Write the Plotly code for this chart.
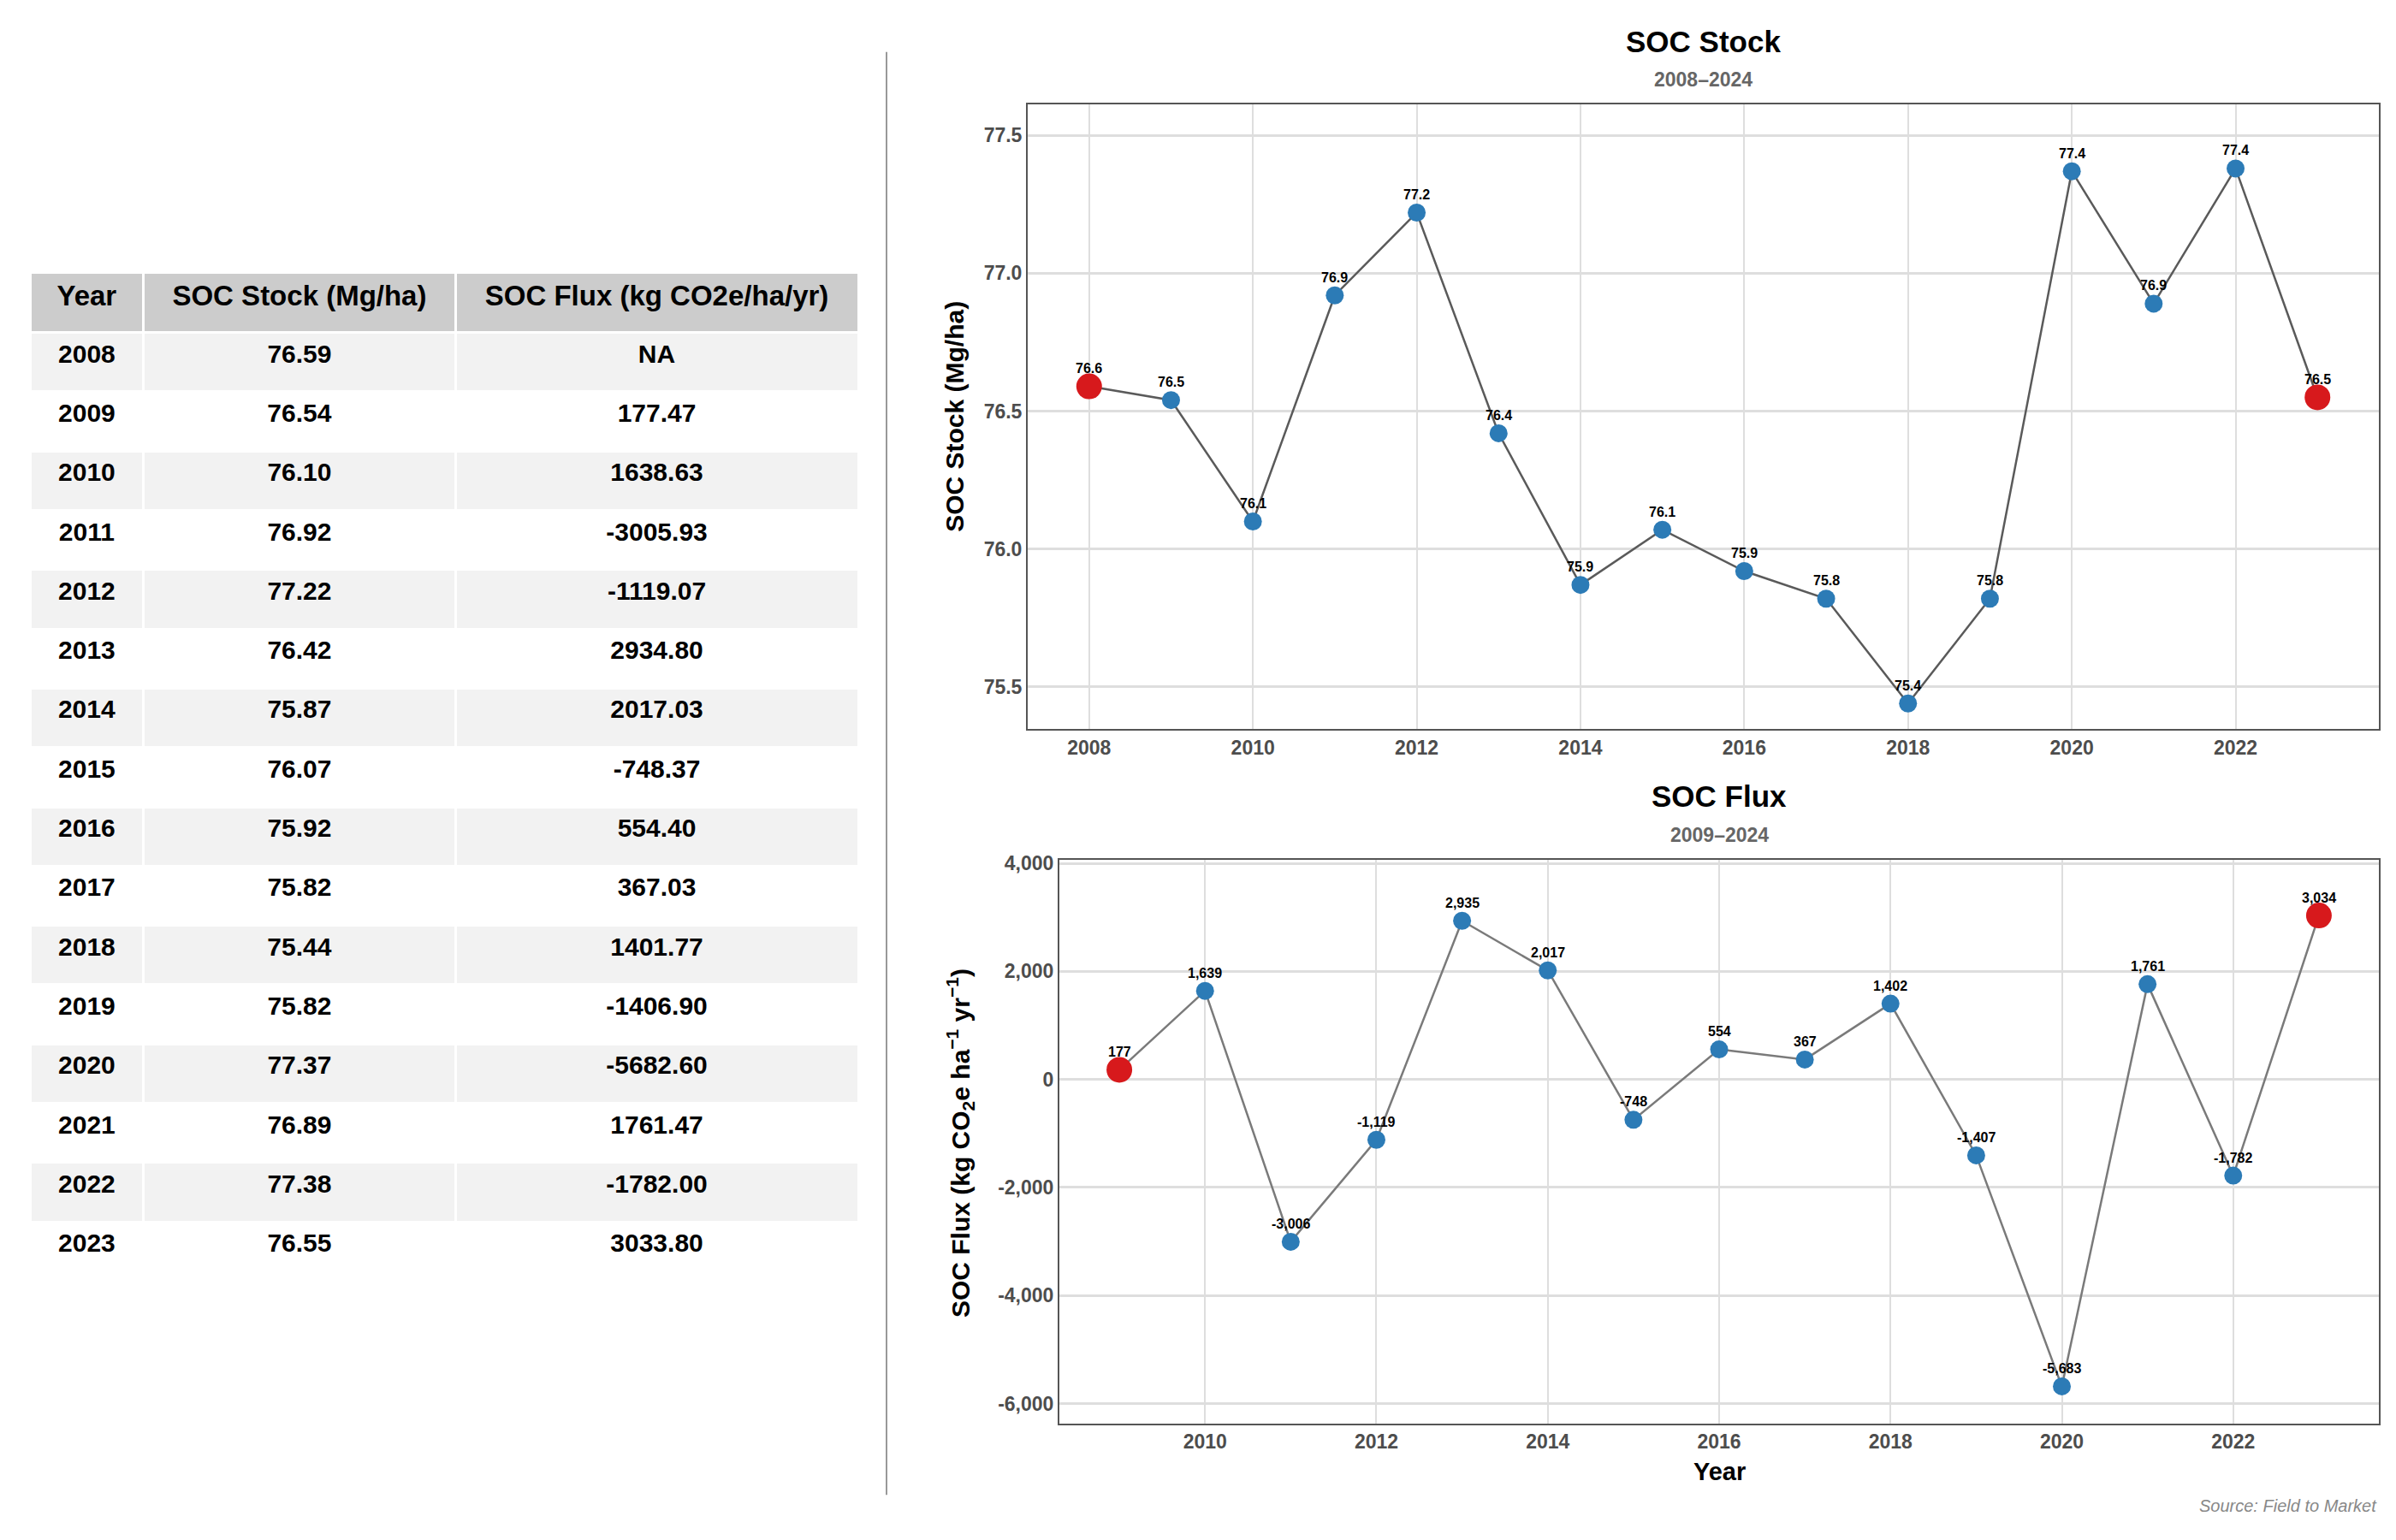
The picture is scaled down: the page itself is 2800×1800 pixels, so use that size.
import plotly.graph_objects as go

# ---------------- data ----------------
years = [2008, 2009, 2010, 2011, 2012, 2013, 2014, 2015, 2016, 2017, 2018, 2019, 2020, 2021, 2022, 2023]
soc_stock = [76.59, 76.54, 76.10, 76.92, 77.22, 76.42, 75.87, 76.07, 75.92, 75.82, 75.44, 75.82, 77.37, 76.89, 77.38, 76.55]
soc_flux = [None, 177.47, 1638.63, -3005.93, -1119.07, 2934.80, 2017.03, -748.37, 554.40, 367.03,
            1401.77, -1406.90, -5682.60, 1761.47, -1782.00, 3033.80]
table_headers = ["Year", "SOC Stock (Mg/ha)", "SOC Flux (kg CO2e/ha/yr)"]
stock_ticks = [75.5, 76.0, 76.5, 77.0, 77.5]
flux_ticks = [-6000, -4000, -2000, 0, 2000, 4000]
year_ticks = [2008, 2010, 2012, 2014, 2016, 2018, 2020, 2022]

flux_years = [y for y, f in zip(years, soc_flux) if f is not None]
flux_vals = [f for f in soc_flux if f is not None]

# ---------------- styling ----------------
W, H = 2800, 1800
FONT = "Liberation Sans, Arial, sans-serif"
BLUE = "#2c7bb6"
RED = "#d7191c"
TICK_COLOR = "#4d4d4d"


def px_x(p):
    return p / W


def px_y(p):
    return 1 - p / H


fig = go.Figure()

# ---------------- table ----------------
n = len(years)
fills = ["#f2f2f2" if i % 2 == 0 else "#ffffff" for i in range(n)]
col_year = [f"<b>{y}</b>" for y in years]
col_stock = [f"<b>{v:.2f}</b>" for v in soc_stock]
col_flux = [f"<b>{'NA' if v is None else format(v, '.2f')}</b>" for v in soc_flux]

fig.add_trace(go.Table(
    domain=dict(x=[px_x(35), px_x(1003)], y=[0, px_y(312)]),
    columnwidth=[132, 362, 468],
    header=dict(
        values=[f"<b>{h}</b>" for h in table_headers],
        fill_color="#cccccc",
        line=dict(color="white", width=3),
        align="center",
        height=70,
        font=dict(family=FONT, size=33, color="black"),
    ),
    cells=dict(
        values=[col_year, col_stock, col_flux],
        fill_color=[fills, fills, fills],
        line=dict(color="white", width=3),
        align="center",
        height=69.3,
        font=dict(family=FONT, size=30, color="black"),
    ),
))

# ---------------- SOC stock chart ----------------
fig.add_trace(go.Scatter(
    x=years, y=soc_stock, mode="lines+markers",
    line=dict(color="#5a5a5a", width=2.5),
    marker=dict(color=BLUE, size=21, line=dict(width=0)),
    xaxis="x", yaxis="y", showlegend=False, hoverinfo="skip",
))
fig.add_trace(go.Scatter(
    x=[years[0], years[-1]], y=[soc_stock[0], soc_stock[-1]], mode="markers",
    marker=dict(color=RED, size=30, line=dict(width=0)),
    xaxis="x", yaxis="y", showlegend=False, hoverinfo="skip",
))

# ---------------- SOC flux chart ----------------
fig.add_trace(go.Scatter(
    x=flux_years, y=flux_vals, mode="lines+markers",
    line=dict(color="#7a7a7a", width=2.5),
    marker=dict(color=BLUE, size=21, line=dict(width=0)),
    xaxis="x2", yaxis="y2", showlegend=False, hoverinfo="skip",
))
fig.add_trace(go.Scatter(
    x=[flux_years[0], flux_years[-1]], y=[flux_vals[0], flux_vals[-1]], mode="markers",
    marker=dict(color=RED, size=30, line=dict(width=0)),
    xaxis="x2", yaxis="y2", showlegend=False, hoverinfo="skip",
))

annotations = []
for x, v in zip(years, soc_stock):
    annotations.append(dict(x=x, y=v, xref="x", yref="y", text=f"<b>{v:.1f}</b>",
                            showarrow=False, yshift=21, xanchor="center", yanchor="middle",
                            font=dict(family=FONT, size=16, color="black")))
for x, v in zip(flux_years, flux_vals):
    annotations.append(dict(x=x, y=v, xref="x2", yref="y2", text=f"<b>{round(v):,}</b>",
                            showarrow=False, yshift=21, xanchor="center", yanchor="middle",
                            font=dict(family=FONT, size=16, color="black")))

top_cx = (px_x(1201) + px_x(2780)) / 2
bot_cx = (px_x(1238) + px_x(2780)) / 2
annotations += [
    dict(x=top_cx, y=px_y(41), xref="paper", yref="paper", text="<b>SOC Stock</b>", showarrow=False,
         xanchor="center", yanchor="middle", font=dict(family=FONT, size=35, color="black")),
    dict(x=top_cx, y=px_y(85), xref="paper", yref="paper", text="<b>2008–2024</b>", showarrow=False,
         xanchor="center", yanchor="middle", font=dict(family=FONT, size=23, color="#666666")),
    dict(x=bot_cx, y=px_y(927), xref="paper", yref="paper", text="<b>SOC Flux</b>", showarrow=False,
         xanchor="center", yanchor="middle", font=dict(family=FONT, size=35, color="black")),
    dict(x=bot_cx, y=px_y(972), xref="paper", yref="paper", text="<b>2009–2024</b>", showarrow=False,
         xanchor="center", yanchor="middle", font=dict(family=FONT, size=23, color="#666666")),
    dict(x=px_x(1116), y=px_y(481), xref="paper", yref="paper", text="<b>SOC Stock (Mg/ha)</b>",
         showarrow=False, textangle=-90, xanchor="center", yanchor="middle",
         font=dict(family=FONT, size=30, color="black")),
    dict(x=px_x(1122), y=px_y(1334), xref="paper", yref="paper",
         text="<b>SOC Flux (kg CO<sub>2</sub>e ha<sup>−1</sup> yr<sup>−1</sup>)</b>",
         showarrow=False, textangle=-90, xanchor="center", yanchor="middle",
         font=dict(family=FONT, size=30, color="black")),
    dict(x=bot_cx, y=px_y(1720), xref="paper", yref="paper", text="<b>Year</b>", showarrow=False,
         xanchor="center", yanchor="middle", font=dict(family=FONT, size=29, color="black")),
    dict(x=px_x(2780), y=px_y(1760), xref="paper", yref="paper", text="<i>Source: Field to Market</i>",
         showarrow=False, xanchor="right", yanchor="middle",
         font=dict(family=FONT, size=20, color="#888888")),
]

axis_common = dict(
    showline=True, mirror=True, linecolor="#555555", linewidth=2,
    showgrid=True, ticks="", zeroline=False,
    tickfont=dict(family=FONT, size=23, color=TICK_COLOR, weight="bold"),
)

fig.update_layout(
    width=W, height=H,
    margin=dict(l=0, r=0, t=0, b=0),
    paper_bgcolor="white", plot_bgcolor="white",
    showlegend=False,
    font=dict(family=FONT),
    xaxis=dict(domain=[px_x(1201), px_x(2780)], range=[2007.25, 2023.75],
               tickvals=year_ticks, gridcolor="#dedede", gridwidth=1.5, anchor="y", **axis_common),
    yaxis=dict(domain=[px_y(848), px_y(115)], range=[75.347, 77.611],
               tickvals=stock_ticks, ticktext=[f"{t:.1f}" for t in stock_ticks],
               gridcolor="#dedede", gridwidth=2.5, anchor="x", **axis_common),
    xaxis2=dict(domain=[px_x(1238), px_x(2780)], range=[2008.3, 2023.7],
                tickvals=year_ticks[1:], gridcolor="#dedede", gridwidth=1.5, anchor="y2", **axis_common),
    yaxis2=dict(domain=[px_y(1663), px_y(1001)], range=[-6367, 4071],
                tickvals=flux_ticks, ticktext=[f"{t:,}" for t in flux_ticks],
                gridcolor="#dedede", gridwidth=2.5, anchor="x2", **axis_common),
    annotations=annotations,
    shapes=[
        dict(type="line", xref="paper", yref="paper", x0=px_x(1036), x1=px_x(1036),
             y0=px_y(53), y1=px_y(1747), line=dict(color="#999999", width=2)),
        dict(type="line", xref="x2", yref="y2", x0=2008.3, x1=2023.7, y0=0, y1=0,
             line=dict(color="#555555", width=3), layer="below"),
    ],
)

fig.write_html("out.html", config={"displayModeBar": False},
               post_script="document.body.style.margin='0';")
